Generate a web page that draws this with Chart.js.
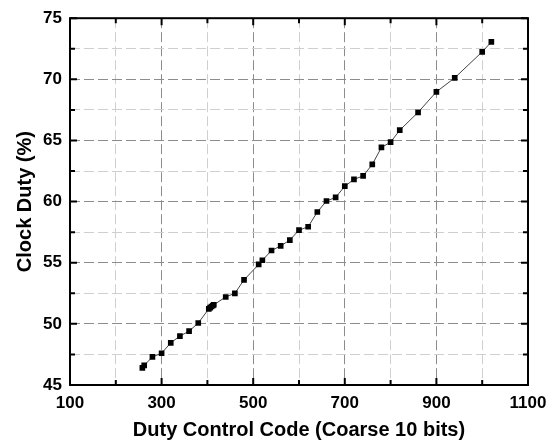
<!DOCTYPE html>
<html>
<head>
<meta charset="utf-8">
<script src="https://cdn.jsdelivr.net/npm/chart.js@4.4.1/dist/chart.umd.min.js"></script>
<style>
  html, body { margin: 0; padding: 0; background: #fff; }
  #wrap { width: 559px; height: 446px; }
</style>
</head>
<body>
<div id="wrap"><canvas id="myChart" width="559" height="446"></canvas></div>
<script>
// Datos
var dutyCode = [258, 262, 280, 300, 320, 340, 360, 380, 403, 406, 409, 412, 414, 440, 460, 480, 512, 520, 540, 560,
  580, 600, 620, 640, 660, 680, 700, 720, 740, 760, 780, 800, 820, 860, 900, 940, 1000, 1020];
var clockDuty = [46.4, 46.6, 47.3, 47.6, 48.45, 49.0, 49.4, 50.07, 51.22, 51.33, 51.42, 51.5, 51.56, 52.2, 52.5, 53.6, 54.86, 55.2, 56.0, 56.38,
  56.85, 57.67, 57.94, 59.15, 60.05, 60.34, 61.26, 61.82, 62.1, 63.04, 64.43, 64.86, 65.84, 67.3, 68.98, 70.12, 72.25, 73.06];
var xTickLabels = [100, 300, 500, 700, 900, 1100];
var yTickLabels = [45, 50, 55, 60, 65, 70, 75];

var points = dutyCode.map(function (x, i) { return { x: x, y: clockDuty[i] }; });
var fontFam = "'Liberation Sans', Arial, sans-serif";

// marco y marcas hacia adentro en los cuatro lados
var framePlugin = {
  id: "frame",
  afterDraw: function (chart) {
    var ctx = chart.ctx;
    var a = chart.chartArea;
    var xs = chart.scales.x, ys = chart.scales.y;
    ctx.save();
    ctx.strokeStyle = "#000";
    ctx.lineWidth = 2;
    xs.ticks.forEach(function (t) {
      var px = xs.getPixelForValue(t.value);
      var len = xTickLabels.indexOf(t.value) >= 0 ? 7 : 5;
      ctx.beginPath();
      ctx.moveTo(px, a.bottom); ctx.lineTo(px, a.bottom - len);
      ctx.moveTo(px, a.top); ctx.lineTo(px, a.top + len);
      ctx.stroke();
    });
    ys.ticks.forEach(function (t) {
      var py = ys.getPixelForValue(t.value);
      var len = yTickLabels.indexOf(t.value) >= 0 ? 7 : 5;
      ctx.beginPath();
      ctx.moveTo(a.left, py); ctx.lineTo(a.left + len, py);
      ctx.moveTo(a.right, py); ctx.lineTo(a.right - len, py);
      ctx.stroke();
    });
    ctx.strokeRect(a.left, a.top, a.right - a.left, a.bottom - a.top);
    ctx.restore();
  }
};

function gridColor(labels) {
  return function (c) {
    if (!c.tick) return "#ccc";
    return labels.indexOf(c.tick.value) >= 0 ? "#8c8c8c" : "#cfcfcf";
  };
}

var ctx = document.getElementById("myChart").getContext("2d");
var myChart = new Chart(ctx, {
  type: "scatter",
  data: {
    datasets: [
      {
        label: "Clock Duty",
        data: points,
        showLine: true,
        borderColor: "#444",
        borderWidth: 1,
        backgroundColor: "#000",
        pointStyle: "rect",
        pointRadius: 4,
        pointBorderWidth: 0,
        pointBackgroundColor: "#000",
      },
    ],
  },
  options: {
    responsive: false,
    animation: false,
    layout: { padding: { left: 0, right: 31, top: 18, bottom: 0 } },
    plugins: {
      legend: { display: false },
      tooltip: { enabled: false },
    },
    scales: {
      x: {
        type: "linear",
        min: 100,
        max: 1100,
        afterFit: function (s) { s.height = 61; },
        ticks: {
          stepSize: 100,
          autoSkip: false,
          maxRotation: 0,
          padding: 8,
          color: "#000",
          font: { family: fontFam, size: 17, weight: "bold" },
          callback: function (v) { return xTickLabels.indexOf(v) >= 0 ? v : ""; },
        },
        grid: { color: gridColor(xTickLabels), lineWidth: 1, drawTicks: false, borderDash: [10, 4] },
        border: { display: false, dash: [10, 4] },
        title: {
          display: true,
          text: "Duty Control Code (Coarse 10 bits)",
          color: "#000",
          font: { family: fontFam, size: 20, weight: "bold" },
          padding: { top: 0, bottom: 4 },
        },
      },
      y: {
        min: 45,
        max: 75,
        afterFit: function (s) { s.width = 70; },
        ticks: {
          stepSize: 2.5,
          autoSkip: false,
          padding: 8,
          color: "#000",
          font: { family: fontFam, size: 17, weight: "bold" },
          callback: function (v) { return yTickLabels.indexOf(v) >= 0 ? v : ""; },
        },
        grid: { color: gridColor(yTickLabels), lineWidth: 1, drawTicks: false, borderDash: [10, 4] },
        border: { display: false, dash: [10, 4] },
        title: {
          display: true,
          text: "Clock Duty (%)",
          color: "#000",
          font: { family: fontFam, size: 20, weight: "bold" },
          padding: { top: 13, bottom: 0 },
        },
      },
    },
  },
  plugins: [framePlugin],
});
</script>
</body>
</html>
